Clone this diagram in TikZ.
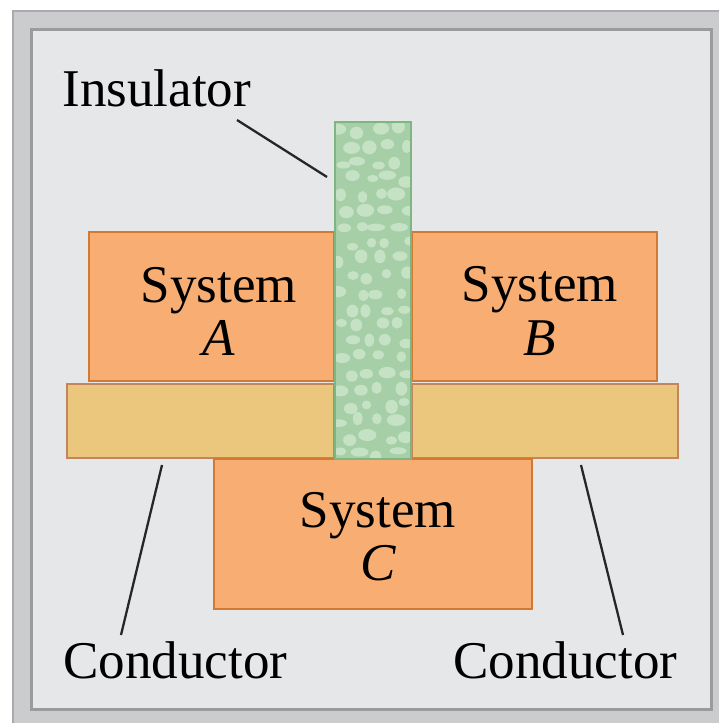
\documentclass[tikz,border=0pt]{standalone}
\usepackage{fontspec}
\setmainfont{Liberation Serif}
\usepackage{tikz}
\usetikzlibrary{positioning,calc}
\definecolor{panelgray}{HTML}{E6E7E9}
\definecolor{bandgray}{HTML}{CBCCCE}
\definecolor{edgegray}{HTML}{9A9B9E}
\definecolor{sysfill}{HTML}{F8AE72}
\definecolor{sysdraw}{HTML}{D27A33}
\definecolor{condfill}{HTML}{EBC77D}
\definecolor{conddraw}{HTML}{C3845E}
\definecolor{insfill}{HTML}{A6CFA7}
\definecolor{insdraw}{HTML}{7DB680}
\definecolor{blobfill}{HTML}{C6E2C5}
\tikzset{
  sysbox/.style={draw=sysdraw, fill=sysfill, line width=1.1pt,
                 anchor=north west, inner sep=0pt},
  condbox/.style={sysbox, draw=conddraw, fill=condfill},
  insbox/.style={sysbox, draw=insdraw, fill=insfill,
    path picture={
      \pgfmathsetseed{23}
      \foreach \r in {0,...,20}{
        \foreach \c in {0,...,3}{
          \pgfmathsetmacro{\bx}{6+19*\c+9*mod(\r,2)+8*(rnd-0.5)}
          \pgfmathsetmacro{\by}{8+16.2*\r+7*(rnd-0.5)}
          \pgfmathsetmacro{\rx}{0.09+0.1*rnd}
          \pgfmathsetmacro{\ry}{0.07+0.07*rnd}
          \fill[blobfill] ($(path picture bounding box.north west)+(\bx,\by)$)
            ellipse ({\rx cm} and {\ry cm});
        }
      }
    }},
  lbl/.style={font=\fontsize{30.2}{30.2}\selectfont, align=center, inner sep=0pt},
  leader/.style={draw=black!85, line width=1.3pt}
}

\begin{document}
\begin{tikzpicture}[x=0.02cm, y=-0.02cm]
  \useasboundingbox (0,0) rectangle (719,723);
  \fill[white] (0,0) rectangle (719,723);
  % frame
  \fill[bandgray] (12,10) rectangle (740,740);
  \draw[edgegray!85, line width=1.6pt] (13,740) -- (13,11) -- (740,11);
  \draw[edgegray, line width=1.7pt, fill=panelgray] (31.5,29.5) rectangle (711,709);

  % systems and walls
  \node[sysbox, minimum width=4.9cm, minimum height=2.98cm] (sa) at (88,231) {};
  \node[sysbox, minimum width=4.9cm, minimum height=2.98cm] (sb) at (411,231) {};
  \node[condbox, minimum width=5.34cm, minimum height=1.48cm] (cl) at (66,383) {};
  \node[condbox, minimum width=5.32cm, minimum height=1.48cm] (cr) at (411,383) {};
  \node[sysbox, minimum width=6.36cm, minimum height=3.0cm] (sc) at (213,458) {};
  \node[insbox, minimum width=1.52cm, minimum height=6.74cm] (ins) at (334,121) {};

  % labels
  \node[lbl] (la) at (219,311) {System\\\textit{A}};
  \node[lbl] (lb) at (540,311) {System\\\textit{B}};
  \node[lbl] (lc) at (378,537) {System\\\textit{C}};
  \node[lbl, anchor=base west] (inslab) at (62,107) {Insulator};
  \node[lbl, anchor=base west] (condl) at (63,678) {Conductor};
  \node[lbl, anchor=base west] (condr) at (453,678) {Conductor};

  % leaders
  \coordinate (insA) at (237,120);
  \coordinate (insB) at (327,177);
  \coordinate (clA) at (121,635);
  \coordinate (clB) at (162,465);
  \coordinate (crA) at (623,635);
  \coordinate (crB) at (581,465);
  \draw[leader] (insA) -- (insB);
  \draw[leader] (clA) -- (clB);
  \draw[leader] (crA) -- (crB);
\end{tikzpicture}
\end{document}
